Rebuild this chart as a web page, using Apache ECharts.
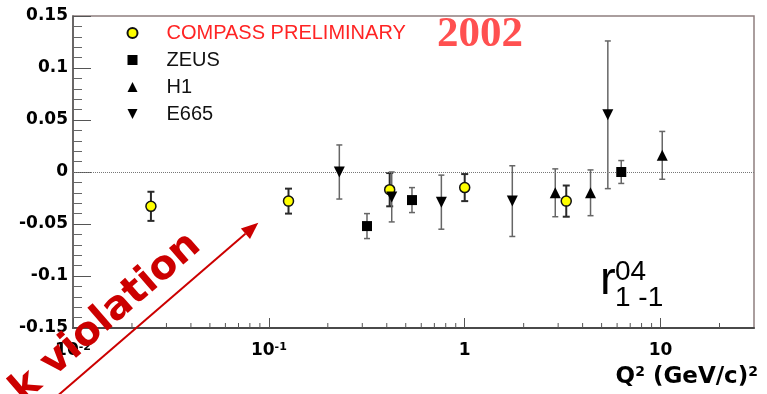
<!DOCTYPE html>
<html>
<head>
<meta charset="utf-8">
<script src="https://cdn.jsdelivr.net/npm/echarts@6/dist/echarts.min.js"></script>
<style>
  html, body { margin: 0; padding: 0; background: #ffffff; }
  #chart { width: 767px; height: 394px; }
</style>
</head>
<body>
<div id="chart"></div>
<script>
// r^04_{1-1} versus Q^2 (GeV/c)^2 — central values and uncertainties per experiment
const compassQ2  = [0.025, 0.126, 0.414, 1.0, 3.30];
const compassR   = [-0.033, -0.028, -0.017, -0.015, -0.028];
const compassErr = [0.014, 0.012, 0.016, 0.013, 0.015];

const zeusQ2  = [0.317, 0.538, 6.30];
const zeusR   = [-0.052, -0.027, 0.000];
const zeusErr = [0.012, 0.012, 0.011];

const h1Q2  = [2.90, 4.39, 10.2];
const h1R   = [-0.020, -0.020, 0.016];
const h1Err = [0.023, 0.022, 0.023];

const e665Q2  = [0.229, 0.424, 0.76, 1.75, 5.38];
const e665R   = [0.000, -0.024, -0.029, -0.028, 0.055];
const e665Err = [0.026, 0.024, 0.026, 0.034, 0.071];

const seriesNames = ['COMPASS PRELIMINARY', 'ZEUS', 'H1', 'E665'];

// axis ranges and the small log ticks between decades
const xMin = 0.01, xMax = 30;
const yMin = -0.15, yMax = 0.15, yStep = 0.05;
const xMinorTicks = [0.02, 0.03, 0.04, 0.05, 0.06, 0.07, 0.08, 0.09,
                     0.2, 0.3, 0.4, 0.5, 0.6, 0.7, 0.8, 0.9,
                     2, 3, 4, 5, 6, 7, 8, 9, 20];

const BOLD_FONT = 'DejaVu Sans';
const SANS = 'Liberation Sans';

const SQUARE = 'path://M0,0H10V10H0Z';
const TRI_UP = 'path://M5,0L10,10L0,10Z';
const TRI_DOWN = 'path://M0,0L10,0L5,10Z';

function points(q, r) { return q.map((v, i) => [v, r[i]]); }
function bars(q, r, e) { return q.map((v, i) => [v, r[i] - e[i], r[i] + e[i]]); }

function errorBars(name, data, color, width, cap) {
  return {
    name: name,
    type: 'custom',
    z: 2,
    silent: true,
    data: data,
    encode: { x: 0, y: [1, 2] },
    renderItem: function (params, api) {
      const x = api.value(0);
      const top = api.coord([x, api.value(2)]);
      const bot = api.coord([x, api.value(1)]);
      const st = { stroke: color, lineWidth: width };
      return {
        type: 'group',
        children: [
          { type: 'line', shape: { x1: top[0], y1: top[1], x2: bot[0], y2: bot[1] }, style: st },
          { type: 'line', shape: { x1: top[0] - cap, y1: top[1], x2: top[0] + cap, y2: top[1] }, style: st },
          { type: 'line', shape: { x1: bot[0] - cap, y1: bot[1], x2: bot[0] + cap, y2: bot[1] }, style: st }
        ]
      };
    }
  };
}

function marker(name, data, symbol, size, style) {
  return {
    name: name,
    type: 'scatter',
    z: 5,
    data: data,
    symbol: symbol,
    symbolSize: size,
    itemStyle: Object.assign({ opacity: 1 }, style),
    emphasis: { disabled: true }
  };
}

// arrow pointing into the low-Q^2 region
const arrowTip = [258.3, 222.7];
const arrowTail = [55, 398];
const adx = arrowTip[0] - arrowTail[0], ady = arrowTip[1] - arrowTail[1];
const alen = Math.sqrt(adx * adx + ady * ady);
const ux = adx / alen, uy = ady / alen;
const headLen = 17, headHalf = 7;
const headBase = [arrowTip[0] - headLen * ux, arrowTip[1] - headLen * uy];

const chart = echarts.init(document.getElementById('chart'), null, { renderer: 'canvas' });

chart.setOption({
  animation: false,
  backgroundColor: '#ffffff',
  grid: {
    left: 73, right: 13, top: 16, bottom: 66,
    show: true,
    borderColor: '#8f7f7f',
    borderWidth: 1.5,
    backgroundColor: 'transparent'
  },
  legend: {
    orient: 'vertical',
    left: 126.5,
    top: 23,
    padding: 0,
    itemWidth: 10,
    itemHeight: 10,
    itemGap: 7,
    selectedMode: false,
    textStyle: { fontFamily: SANS, fontSize: 20, color: '#111', lineHeight: 20, padding: [0, 0, 0, 24] },
    data: [
      { name: seriesNames[0], icon: 'circle', textStyle: { color: '#ff2424' } },
      { name: seriesNames[1], icon: SQUARE },
      { name: seriesNames[2], icon: TRI_UP },
      { name: seriesNames[3], icon: TRI_DOWN }
    ]
  },
  xAxis: {
    type: 'log',
    logBase: 10,
    min: xMin,
    max: xMax,
    axisLine: { show: true, onZero: false, lineStyle: { color: '#4a4a4a', width: 2 } },
    axisTick: { show: true, inside: true, length: 10, lineStyle: { color: '#555', width: 1 } },
    minorTick: { show: false },
    splitLine: { show: false },
    axisLabel: {
      margin: 14,
      color: '#000',
      showMaxLabel: false,
      formatter: function (v) {
        const lg = Math.log10(v);
        const e = Math.round(lg);
        if (Math.abs(lg - e) > 1e-6) return '';
        if (e < 0) return '{b|10}{s|' + e + '}';
        return '{b|' + Math.round(Math.pow(10, e)) + '}';
      },
      rich: {
        b: { fontFamily: BOLD_FONT, fontWeight: 'bold', fontSize: 17, color: '#000' },
        s: { fontFamily: BOLD_FONT, fontWeight: 'bold', fontSize: 11, color: '#000', verticalAlign: 'top' }
      }
    }
  },
  yAxis: {
    type: 'value',
    min: yMin,
    max: yMax,
    interval: yStep,
    axisLine: { show: true, onZero: false, lineStyle: { color: '#555', width: 1.5 } },
    axisTick: { show: true, inside: true, length: 18, lineStyle: { color: '#555', width: 1 } },
    minorTick: { show: true, splitNumber: 5, length: 9, lineStyle: { color: '#666', width: 1 } },
    splitLine: { show: false },
    axisLabel: {
      margin: 5,
      color: '#000',
      fontFamily: BOLD_FONT,
      fontWeight: 'bold',
      fontSize: 17
    }
  },
  series: [
    // small ticks between the decades of the log axis
    {
      name: 'minor ticks',
      type: 'custom',
      silent: true,
      z: 3,
      data: xMinorTicks.map(v => [v, yMin]),
      encode: { x: 0, y: 1 },
      renderItem: function (params, api) {
        const p = api.coord([api.value(0), yMin]);
        return {
          type: 'line',
          shape: { x1: p[0], y1: p[1], x2: p[0], y2: p[1] - 5 },
          style: { stroke: '#555', lineWidth: 1 }
        };
      }
    },
    errorBars('COMPASS err', bars(compassQ2, compassR, compassErr), '#2a2a2a', 2, 3.5),
    errorBars('ZEUS err', bars(zeusQ2, zeusR, zeusErr), '#666', 1.5, 3),
    errorBars('H1 err', bars(h1Q2, h1R, h1Err), '#666', 1.5, 3),
    errorBars('E665 err', bars(e665Q2, e665R, e665Err), '#666', 1.5, 3),
    Object.assign(marker(seriesNames[0], points(compassQ2, compassR), 'circle', 10,
      { color: '#ffff00', borderColor: '#111', borderWidth: 1.5 }), {
      markLine: {
        silent: true,
        symbol: 'none',
        label: { show: false },
        lineStyle: { type: 'dotted', color: '#777', width: 1 },
        data: [{ yAxis: 0 }]
      }
    }),
    marker(seriesNames[1], points(zeusQ2, zeusR), SQUARE, 10, { color: '#000' }),
    marker(seriesNames[2], points(h1Q2, h1R), TRI_UP, 11, { color: '#000' }),
    marker(seriesNames[3], points(e665Q2, e665R), TRI_DOWN, 11, { color: '#000' })
  ],
  graphic: [
    {
      type: 'text', z: 10,
      style: { text: '2002', x: 437, y: 35, align: 'left', verticalAlign: 'middle',
        font: 'bold 43px "Liberation Serif"', fill: '#ff5050' }
    },
    {
      type: 'text', z: 10,
      style: { text: 'r', x: 600, y: 281, align: 'left', verticalAlign: 'middle',
        font: '47px "Liberation Sans"', fill: '#000' }
    },
    {
      type: 'text', z: 10,
      style: { text: '04', x: 615, y: 272, align: 'left', verticalAlign: 'middle',
        font: '28px "Liberation Sans"', fill: '#000' }
    },
    {
      type: 'text', z: 10,
      style: { text: '1 -1', x: 615, y: 298, align: 'left', verticalAlign: 'middle',
        font: '28px "Liberation Sans"', fill: '#000' }
    },
    {
      type: 'text', z: 10,
      style: {
        text: '{a|Q}{s|2}{a| (GeV/c)}{s|2}',
        x: 758, y: 377, align: 'right', verticalAlign: 'middle',
        rich: {
          a: { fontFamily: BOLD_FONT, fontWeight: 'bold', fontSize: 23, color: '#000' },
          s: { fontFamily: BOLD_FONT, fontWeight: 'bold', fontSize: 14, color: '#000', verticalAlign: 'top' }
        }
      }
    },
    {
      type: 'text', z: 20,
      x: 106, y: 318, rotation: 41 * Math.PI / 180,
      style: { text: 'k violation', x: 0, y: 0, align: 'center', verticalAlign: 'middle',
        font: 'bold 40px "DejaVu Sans"', fill: '#cc0000' }
    },
    {
      type: 'line', z: 20,
      shape: { x1: arrowTail[0], y1: arrowTail[1], x2: headBase[0], y2: headBase[1] },
      style: { stroke: '#cc0000', lineWidth: 2 }
    },
    {
      type: 'polygon', z: 20,
      shape: {
        points: [
          arrowTip,
          [headBase[0] - headHalf * uy, headBase[1] + headHalf * ux],
          [headBase[0] + headHalf * uy, headBase[1] - headHalf * ux]
        ]
      },
      style: { fill: '#cc0000' }
    }
  ]
});
</script>
</body>
</html>
